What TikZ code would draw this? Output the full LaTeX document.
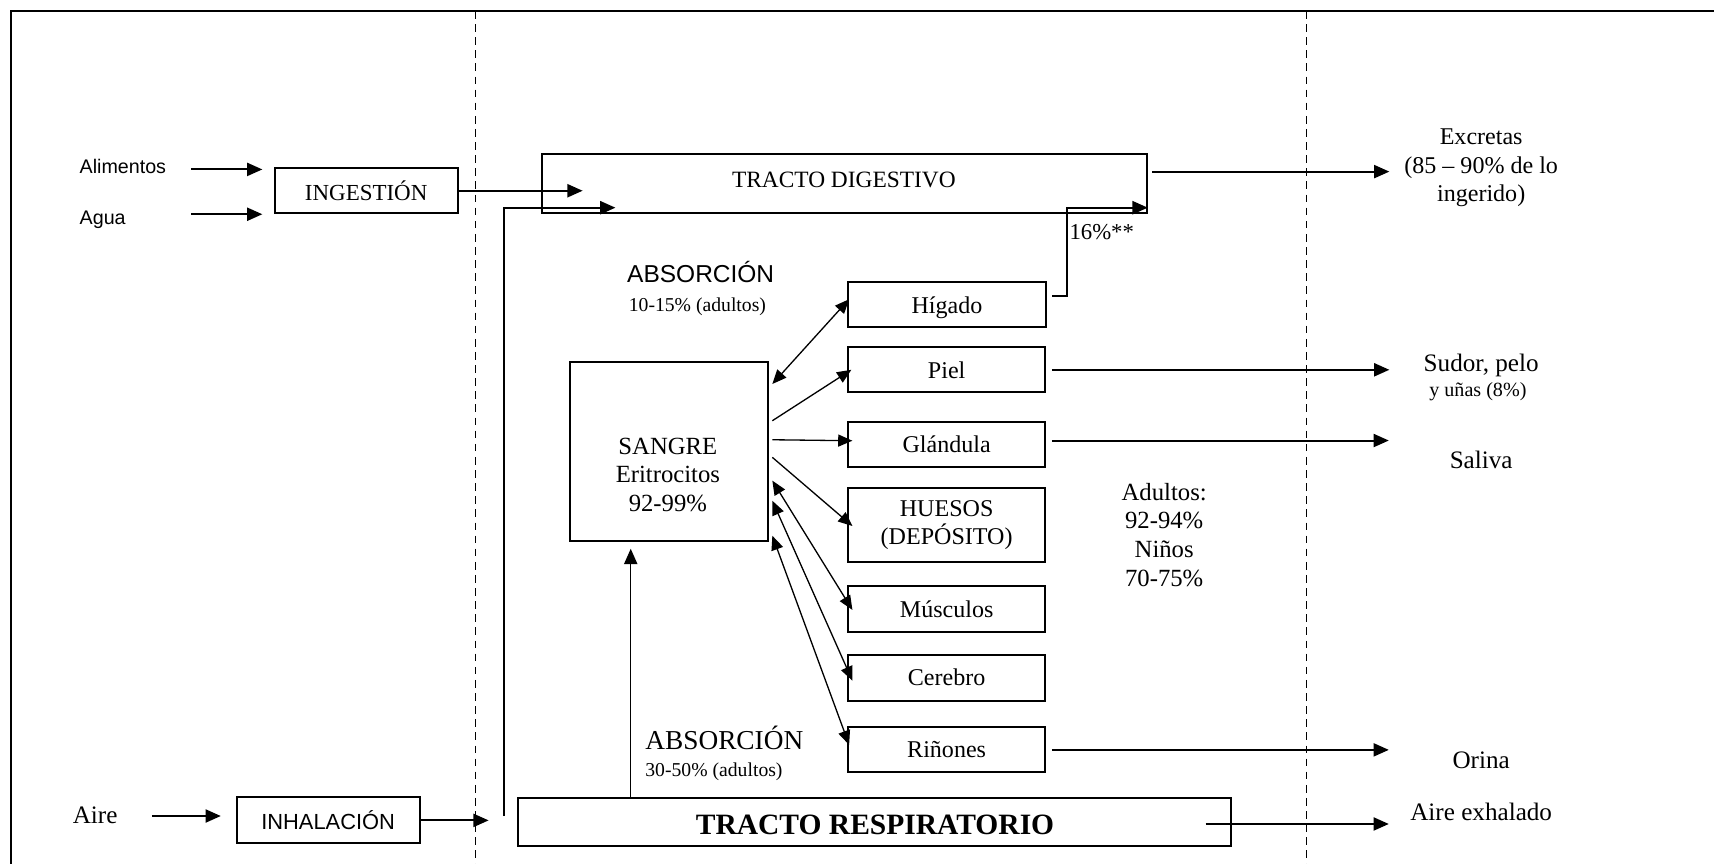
\documentclass[tikz,border=0pt]{standalone}
\usepackage{fontspec}
\setmainfont{Liberation Serif}
\setsansfont{Liberation Sans}
\usetikzlibrary{arrows.meta,calc}
\begin{document}
\begin{tikzpicture}[x=0.5pt,y=-0.5pt,
  box/.style={draw,line width=0.9pt,inner sep=0pt,align=center,font=\fontsize{11}{13}\selectfont},
  organ/.style={box,minimum width=90.3pt,minimum height=20.6pt},
  arr/.style={line width=0.9pt,-{Triangle[length=7pt,width=6pt]}},
  thinarr/.style={line width=0.6pt,-{Triangle[length=6.5pt,width=5.5pt]}},
  dthinarr/.style={line width=0.6pt,{Triangle[length=6.5pt,width=5.5pt]}-{Triangle[length=6.5pt,width=5.5pt]}},
  txt/.style={inner sep=0pt,align=center,font=\fontsize{11.3}{13}\selectfont},
  dashline/.style={line width=0.6pt,dash pattern=on 3.5pt off 2.5pt},
]
\useasboundingbox (0,0) rectangle (1568,790);
% frame
\draw[line width=1.1pt] (10,790) -- (10,10) -- (1568,10);
\draw[dashline] (435,10) -- (435,790);
\draw[dashline] (1195,10) -- (1195,790);

% boxes
\node[box,minimum width=83.6pt,minimum height=20.5pt,font=\fontsize{10.5}{12}\selectfont] (ing) at (335,174.5) {INGESTIÓN};
\node[box,minimum width=276.7pt,minimum height=27.1pt] (td) at (772.8,168) {};
\node[txt,font=\fontsize{10.7}{12}\selectfont] (tdtxt) at (772,165) {TRACTO DIGESTIVO};
\node[organ] (hig) at (866.3,278.3) {};
\node[txt,font=\fontsize{11}{13}\selectfont,anchor=base] (higtxt) at (866.3,287) {Hígado};
\node[organ] (piel) at (866,338.3) {Piel};
\node[organ] (gla) at (866,406.4) {Glándula};
\node[organ,minimum height=34.2pt] (hue) at (866,480.2) {HUESOS\\(DEPÓSITO)};
\node[organ,minimum height=21pt] (mus) at (866,557) {Músculos};
\node[organ,minimum height=21pt] (cer) at (866,620) {Cerebro};
\node[organ] (rin) at (866,685.4) {Riñones};
\node[box,minimum width=90.65pt,minimum height=81.85pt] (sangre) at (612,412.75) {};
\node[txt,font=\fontsize{11.3}{13}\selectfont] (sangretxt) at (611,434.5) {SANGRE\\Eritrocitos\\92-99\%};
\node[box,minimum width=83.8pt,minimum height=21pt,font=\sffamily\fontsize{10}{12}\selectfont] (inh) at (300.2,750.5) {INHALACIÓN};
\node[box,minimum width=326.4pt,minimum height=22.2pt] (tr) at (800,751.8) {};
\node[txt,font=\bfseries\fontsize{13.5}{15}\selectfont] (trtxt) at (800.5,754.5) {TRACTO RESPIRATORIO};

% texts
\node[txt,anchor=west,font=\sffamily\fontsize{9}{11}\selectfont] (alim) at (72.5,152.5) {Alimentos};
\node[txt,anchor=west,font=\sffamily\fontsize{9}{11}\selectfont] (agua) at (72.5,201) {Agua};
\node[txt,font=\fontsize{11.5}{13}\selectfont] (aire) at (87,745.6) {Aire};
\node[txt,font=\fontsize{11}{13}\selectfont] (exc) at (1355,153.5) {Excretas\\(85 – 90\% de lo\\ingerido)};
\node[txt,font=\fontsize{11.5}{13}\selectfont] (sudor) at (1355,334) {Sudor, pelo};
\node[txt,font=\fontsize{9.2}{11}\selectfont] (unas) at (1352,358.3) {y uñas (8\%)};
\node[txt,font=\fontsize{11.5}{13}\selectfont] (saliva) at (1355,420.8) {Saliva};
\node[txt,font=\fontsize{11.5}{13}\selectfont] (orina) at (1355,695.3) {Orina};
\node[txt,font=\fontsize{11.5}{13}\selectfont] (exhal) at (1355,742.5) {Aire exhalado};
\node[txt,font=\fontsize{11.3}{13.2}\selectfont] (adul) at (1065,489.4) {Adultos:\\92-94\%\\Niños\\70-75\%};
\node[txt,font=\sffamily\fontsize{11.2}{13}\selectfont] (absa) at (641,248.5) {ABSORCIÓN};
\node[txt,font=\fontsize{9}{11}\selectfont] (absap) at (638,280.5) {10-15\% (adultos)};
\node[txt,anchor=west,font=\fontsize{12.5}{14}\selectfont] (absb) at (590,675.5) {ABSORCIÓN};
\node[txt,anchor=west,font=\fontsize{9}{11}\selectfont] (absbp) at (590,706) {30-50\% (adultos)};
\node[txt,anchor=west,font=\fontsize{10.4}{12}\selectfont] (pct) at (978,212) {16\%**};

% free ends
\coordinate (alimS) at (175,155); \coordinate (alimT) at (240,155);
\coordinate (aguaS) at (175,196); \coordinate (aguaT) at (240,196);
\coordinate (aireS) at (139,746.5); \coordinate (aireT) at (202,746.5);
\coordinate (tdinA) at (533,174.5);
\coordinate (inhV) at (461,746.5); \coordinate (tdinB) at (563,190);
\coordinate (inhT) at (447,750.5);
\coordinate (absT) at (577,502);
\coordinate (excT) at (1271,157);
\coordinate (tdHig) at (1050,190);
\coordinate (sudT) at (1271,338.3);
\coordinate (salT) at (1270.5,403);
\coordinate (orT) at (1270.5,686);
\coordinate (exT) at (1270.5,753.8);

% connectors
\draw[arr] (alimS) -- (alimT);
\draw[arr] (aguaS) -- (aguaT);
\draw[arr] (aireS) -- (aireT);
\draw[arr] (ing.east) -- (tdinA);
\draw[arr] (inhV) |- (tdinB);
\draw[arr] (inh.east) -- (inhT);
\draw[line width=0.7pt,-{Triangle[length=7pt,width=6pt]}] (absT |- tr.north) -- (absT);
\draw[arr] ([xshift=1.75pt]td.east |- excT) -- (excT);
\draw[arr] ([xshift=2.5pt,yshift=3.7pt]hig.east) -| ($(tdHig)+(-74,0)$) -- (tdHig);
\draw[arr] ([xshift=2.5pt]piel.east) -- (sudT);
\draw[arr] ([xshift=2.5pt]gla.east |- salT) -- (salT);
\draw[arr] ([xshift=2.5pt]rin.east |- orT) -- (orT);
\draw[arr] ([xshift=-12.2pt]tr.east |- exT) -- (exT);

\draw[dthinarr] ($(sangre.north east)+(3,21.3)$) -- ($(hig.south west)+(1.6,-26)$);
\draw[thinarr] ($(sangre.north east)+(3,54.9)$) -- ([xshift=2pt]piel.west);
\draw[thinarr] ($(sangre.north east)+(3,72.3)$) -- ($(gla.west)+(5,-3.2)$);
\draw[thinarr] ($(sangre.north east)+(3,88.4)$) -- ($(hue.west)+(5,1)$);
\draw[dthinarr] ($(sangre.north east)+(3,109.7)$) -- ($(mus.west)+(5,1)$);
\draw[dthinarr] ($(sangre.north east)+(3,128.1)$) -- ($(cer.west)+(5,2.7)$);
\draw[dthinarr] ($(sangre.north east)+(3,160.1)$) -- ($(rin.west)+(2,-4)$);
\end{tikzpicture}
\end{document}
